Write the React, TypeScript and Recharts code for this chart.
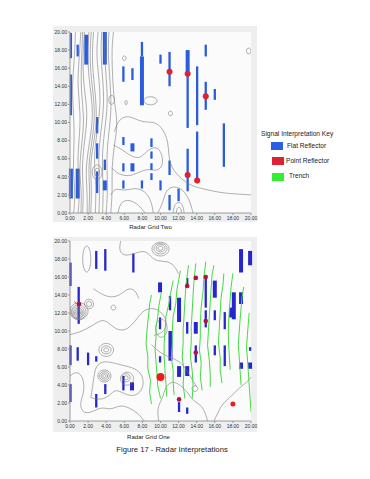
import React from "react";
import { ScatterChart, Scatter, XAxis, YAxis, ReferenceLine, CartesianGrid } from "recharts";

type XY = [number, number];
type Seg = [number, number, number]; // x, yFrom, yTo
type Ring = [number, number, number, number]; // cx, cy, rx, ry

const axisTicks = [0, 2, 4, 6, 8, 10, 12, 14, 16, 18, 20];

// ---------- Radar Grid Two (top) ----------
const twoContours: XY[][] = [
  [[0.4, 0], [0.6, 2], [0.3, 5], [0.5, 8], [0.4, 11], [0.2, 14], [0.5, 17], [0.6, 20]],
  [[0.9, 0], [1.1, 2.5], [0.8, 5.5], [1.0, 8], [1.2, 11], [0.8, 14], [1.0, 17], [1.2, 20]],
  [[1.2, 0], [1.3, 2.2], [1.0, 4.8], [1.3, 7.6], [1.6, 10.5], [1.2, 13.5], [1.25, 16.5], [1.4, 20]],
  [[1.4, 0], [1.5, 2.5], [1.3, 5], [1.6, 8], [2.0, 11], [1.5, 14], [1.4, 17], [1.6, 20]],
  [[1.9, 0], [1.9, 2.5], [1.7, 5], [2.2, 8], [2.6, 11], [2.2, 14], [1.9, 17], [2.1, 20]],
  [[2.1, 0], [2.2, 2.8], [2.0, 5.2], [2.45, 8], [2.8, 11], [2.45, 14], [2.15, 17], [2.35, 20]],
  [[2.3, 0], [2.4, 3], [2.2, 5.5], [2.7, 8], [3.0, 11], [2.7, 14], [2.4, 17], [2.6, 20]],
  [[2.8, 0], [2.9, 3], [2.6, 6], [3.0, 9], [3.4, 12], [3.2, 15], [2.9, 17.5], [3.1, 20]],
  [[3.2, 0], [3.3, 3], [3.1, 6], [3.4, 9], [3.8, 12], [3.6, 15], [3.4, 17.5], [3.5, 20]],
  [[3.6, 0], [3.7, 3], [3.5, 6], [3.8, 9], [4.2, 12], [4.0, 15], [3.8, 17.5], [3.9, 20]],
  [[4.0, 0], [4.2, 3], [4.0, 6], [4.3, 9], [4.6, 11.5], [4.4, 15], [4.2, 17.5], [4.3, 20]],
  [[4.5, 0], [4.7, 2.5], [4.6, 5], [4.9, 7.5], [5.3, 10], [4.9, 12], [4.7, 15], [4.6, 18], [4.8, 20]],
  [[4.9, 9.0], [5.3, 10.2], [6.2, 10.8], [7.2, 10.4], [8.2, 10.0], [9.4, 10.1], [10.3, 9.3], [10.9, 7.8], [10.9, 5.7], [11.6, 4.4], [13.1, 3.1], [14.5, 2.7], [16.8, 2.2], [18.5, 2.1], [20, 2.0]],
  [[4.8, 7.5], [5.8, 7.0], [6.8, 6.2], [7.8, 6.0], [8.6, 7.0], [9.6, 7.4], [10.2, 6.5], [10.3, 5.2], [9.6, 4.6], [8.6, 4.9], [7.6, 4.5], [6.5, 4.0], [5.3, 4.3], [4.6, 5.0]],
  [[5.3, 0], [5.6, 1.3], [6.6, 1.5], [7.6, 0.9], [8.3, 0]],
  [[9.7, 0], [10.3, 1.2], [10.6, 2.6], [11.5, 3.0], [12.5, 2.6], [13.2, 1.5], [13.6, 0]],
  [[11.4, 0], [11.5, 0.9], [12.0, 1.3], [12.5, 0.9], [12.6, 0]],
  [[11.75, 0], [11.8, 0.5], [12.05, 0.7], [12.3, 0.45], [12.3, 0]],
  [[4.5, 2.0], [5.0, 2.8], [6.0, 2.4], [7.0, 2.8], [8.3, 2.5], [9.0, 1.3], [9.2, 0]],
];
const twoRings: Ring[] = [
  [4.6, 12.5, 0.35, 0.55], [6.2, 12.2, 0.15, 0.25], [6.0, 17.1, 0.22, 0.28],
  [11.1, 11.0, 0.25, 0.28], [8.9, 12.4, 0.8, 0.5], [19.75, 17.9, 0.3, 0.35],
  [3.0, 4.5, 0.3, 0.5], [3.0, 4.5, 0.6, 0.9],
];
const twoFlat: Seg[] = [
  [0.1, 17.1, 19.9], [0.1, 10.8, 15.3], [0.85, 17.3, 18.6], [3.0, 8.8, 10.6], [3.0, 6.0, 7.7],
  [3.0, 2.2, 4.6], [3.85, 4.75, 5.9], [5.9, 14.5, 16.2], [5.9, 7.5, 8.4], [5.9, 4.6, 5.5],
  [5.9, 2.7, 3.6], [6.9, 14.7, 16.0], [7.95, 17.3, 18.9], [7.95, 2.7, 3.6], [9.0, 7.3, 8.25],
  [9.0, 6.0, 6.8], [9.0, 4.75, 5.5], [9.0, 3.65, 4.4], [10.0, 16.5, 17.5], [10.0, 2.5, 3.6],
  [11.0, 14.0, 17.8], [11.0, 4.2, 5.8], [11.0, 0.3, 2.0], [12.0, 1.3, 2.7], [13.0, 9.4, 15.6],
  [13.0, 2.4, 7.1], [14.05, 9.7, 16.2], [14.05, 3.3, 9.0], [15.0, 17.3, 18.6], [15.0, 11.4, 14.5],
  [16.0, 12.5, 13.7], [17.0, 5.1, 9.9],
];
const twoFlatWide: Seg[] = [
  [0.1, 1.6, 4.9], [0.85, 1.6, 4.9], [1.8, 16.4, 19.7], [3.85, 16.4, 20], [3.85, 2.5, 3.6],
  [6.9, 6.8, 7.7], [6.9, 4.6, 5.5], [7.95, 11.9, 17.3], [13.0, 15.6, 18.0],
];
const twoPoints: XY[] = [[11.0, 15.6], [13.0, 15.4], [15.0, 12.9], [13.0, 4.2], [14.05, 3.6]];

// ---------- Radar Grid One (bottom) ----------
const oneContours: XY[][] = [
  [[5.6, 20], [5.4, 18.9], [6.0, 18.3], [7.1, 18.6], [8.3, 19.0], [8.9, 18.3], [9.6, 17.7], [10.8, 17.8], [11.6, 17.2], [12.0, 16.3]],
  [[0, 9.6], [1.2, 9.9], [2.5, 10.6], [3.5, 11.3], [4.2, 11.0], [5.0, 10.2], [6.0, 10.0], [6.8, 10.6], [7.5, 11.5], [8.2, 12.4], [9.3, 12.6], [10.3, 12.0], [10.8, 10.8], [10.3, 9.8], [9.3, 9.5]],
  [[2.6, 14.7], [3.6, 14.0], [4.6, 13.7], [5.6, 14.0], [6.4, 14.8], [7.2, 14.6], [7.6, 13.6]],
  [[2.3, 2.6], [2.6, 4.5], [2.8, 6.2], [3.8, 6.7], [5.0, 6.4], [6.2, 6.1], [7.4, 5.8], [8.2, 4.8], [8.0, 3.3], [7.0, 2.7], [6.0, 3.0], [5.0, 3.6], [4.4, 2.8], [3.4, 2.3], [2.3, 2.6]],
  [[0, 5.0], [0.8, 5.6], [1.5, 4.8], [1.6, 3.2], [1.0, 1.8], [1.5, 0.8], [2.5, 1.0], [3.5, 1.6], [4.5, 1.2], [5.5, 1.8], [6.5, 1.5], [7.5, 0.9], [8.2, 0]],
  [[15.9, 0], [16.4, 1.0], [16.8, 1.9], [17.9, 2.8], [18.8, 3.8], [19.6, 4.3], [20, 4.9]],
  [[9.8, 0], [9.6, 1.5], [10.3, 2.6], [10.5, 3.8], [11.3, 4.5], [12.2, 4.0], [13.0, 3.2], [13.6, 2.2], [14.5, 1.8], [15.0, 0.8], [15.2, 0]],
  [[9.0, 8.5], [10.0, 7.5], [11.3, 7.0], [12.3, 6.5], [13.0, 5.5], [13.5, 4.6], [14.0, 3.8]],
];
const oneRings: Ring[] = [
  [1.85, 18.0, 0.5, 1.6],
  [10.0, 19.2, 0.3, 0.25], [10.0, 19.2, 0.55, 0.45], [10.0, 19.15, 0.8, 0.65], [10.0, 19.1, 1.05, 0.85],
  [0.9, 12.0, 0.15, 0.15], [0.9, 12.0, 0.3, 0.3], [0.9, 12.0, 0.45, 0.45], [0.9, 12.0, 0.6, 0.6],
  [0.9, 12.05, 0.75, 0.75], [0.95, 12.1, 0.9, 0.9], [1.0, 12.2, 1.1, 1.05],
  [2.1, 13.0, 0.3, 0.35], [2.1, 13.0, 0.55, 0.6],
  [4.8, 12.6, 0.3, 0.3],
  [4.0, 7.9, 0.3, 0.25], [4.0, 7.9, 0.6, 0.5], [4.0, 7.9, 0.9, 0.8],
  [3.8, 5.0, 0.2, 0.18], [3.8, 5.0, 0.4, 0.36], [3.8, 5.0, 0.6, 0.55], [3.8, 5.0, 0.8, 0.75],
  [6.2, 4.8, 0.25, 0.25], [6.2, 4.8, 0.5, 0.5], [6.3, 4.7, 0.8, 0.8],
  [13.8, 3.6, 0.35, 0.35], [10.1, 10.3, 0.7, 1.1],
];
const oneFlat: Seg[] = [
  [0.05, 15.0, 17.6], [0.05, 6.2, 8.4], [0.05, 2.1, 4.1], [0.96, 10.8, 14.9], [0.85, 6.7, 8.2],
  [2.0, 6.2, 7.6], [2.9, 16.9, 18.9], [2.9, 6.6, 7.2], [2.9, 1.5, 3.0], [3.9, 16.7, 19.1],
  [3.9, 3.0, 4.1], [5.9, 3.4, 5.0], [7.0, 16.5, 18.6], [9.95, 10.2, 11.5], [9.95, 6.5, 7.2],
  [11.05, 12.3, 13.9], [12.05, 1.0, 2.1], [12.95, 14.9, 15.9], [12.95, 9.7, 11.0], [12.95, 0.8, 1.5],
  [13.9, 6.5, 8.4], [15.0, 12.6, 15.9], [15.0, 10.4, 12.3], [16.0, 11.2, 12.3], [16.0, 7.3, 8.4],
  [17.1, 10.2, 12.1], [17.1, 6.1, 8.4], [19.9, 7.8, 8.2],
];
const oneFlatWide: Seg[] = [
  [6.85, 3.4, 4.3], [9.95, 14.3, 15.4], [11.1, 6.7, 10.0], [12.05, 11.0, 13.7], [12.05, 4.9, 6.1],
  [12.95, 5.0, 6.1], [13.9, 9.7, 11.0], [16.0, 13.7, 15.6], [17.8, 11.5, 12.6], [18.1, 11.3, 14.3],
  [18.9, 16.5, 19.1], [18.9, 13.0, 14.3], [18.9, 5.8, 6.5], [19.9, 17.3, 18.9], [19.9, 5.8, 6.5],
];
const oneTrenches: XY[][] = [
  [[9.0, 1.9], [8.8, 3.2], [8.9, 4.5], [8.6, 5.8], [8.6, 7.1], [8.4, 8.6], [8.5, 10.0], [8.6, 11.0], [8.7, 11.9], [8.8, 13.0], [9.0, 14.0]],
  [[10.0, 2.5], [9.7, 3.9], [9.6, 5.3], [9.5, 6.6], [9.4, 7.9], [9.5, 9.2], [9.5, 10.4], [9.7, 11.6], [9.8, 12.7], [10.1, 14.3]],
  [[10.7, 2.7], [10.6, 4.2], [10.5, 5.6], [10.4, 7.1], [10.4, 8.6], [10.5, 10.1], [10.6, 11.6], [10.9, 12.9], [11.1, 14.1], [11.4, 15.6]],
  [[11.5, 2.9], [11.4, 4.3], [11.4, 5.6], [11.2, 7.0], [11.3, 8.6], [11.3, 10.0], [11.4, 11.6], [11.7, 13.1], [11.8, 14.5], [12.2, 16.7]],
  [[12.7, 2.5], [12.5, 4.0], [12.6, 5.6], [12.4, 7.1], [12.5, 8.6], [12.5, 10.1], [12.6, 11.6], [12.7, 13.3], [12.8, 15.0], [13.1, 17.3]],
  [[13.5, 2.5], [13.6, 4.0], [13.5, 5.6], [13.3, 7.2], [13.4, 8.9], [13.4, 10.5], [13.5, 12.2], [13.6, 14.0], [13.7, 15.6], [13.9, 17.5]],
  [[14.6, 3.4], [14.4, 4.9], [14.5, 6.4], [14.3, 7.9], [14.4, 9.3], [14.4, 11.0], [14.5, 12.7], [14.7, 14.4], [14.8, 16.0], [15.0, 17.7]],
  [[15.5, 3.8], [15.5, 5.2], [15.4, 6.7], [15.2, 8.4], [15.3, 10.1], [15.4, 11.7], [15.5, 13.3], [15.6, 14.8], [15.7, 16.3], [15.9, 17.3]],
  [[16.8, 4.2], [16.6, 5.6], [16.6, 7.0], [16.4, 8.7], [16.5, 10.4], [16.6, 12.1], [16.7, 13.8], [16.9, 15.1], [17.0, 16.4]],
  [[17.7, 5.7], [17.6, 7.3], [17.5, 9.0], [17.5, 10.6], [17.6, 12.3], [17.7, 13.6], [17.8, 14.9], [18.0, 16.4]],
  [[18.9, 4.0], [18.8, 5.5], [18.7, 7.0], [18.6, 8.5], [18.7, 10.0], [18.8, 11.3], [18.9, 12.5], [19.0, 13.7], [19.2, 14.9]],
  [[20.0, 1.0], [19.9, 2.5], [19.8, 4.0], [19.7, 5.5], [19.6, 7.0], [19.5, 8.2], [19.6, 9.5], [19.7, 10.8], [19.8, 12.0]],
];
const onePoints: XY[] = [[1.0, 13.0], [12.05, 2.4], [12.95, 15.0], [13.9, 15.9], [15.0, 16.0], [15.0, 11.1], [13.9, 7.6]];
const oneBigPoints: XY[] = [[10.0, 4.9]];
const oneBrightPoints: XY[] = [[18.0, 1.9]];
const oneTrail: XY[] = [[0.45, 13.3], [0.7, 13.05], [1.0, 13.0]];

const toPts = (arr: XY[]) => arr.map(([x, y]) => ({ x, y }));
const ringPts = ([cx, cy, rx, ry]: Ring) =>
  [0, 1, 2, 3, 4, 5, 6, 7].map((k) => ({ x: cx + rx * Math.cos((k * Math.PI) / 4), y: cy + ry * Math.sin((k * Math.PI) / 4) }));

const Empty = () => <g />;
const dot = (r: number, fill: string) => (p: any) => <circle cx={p.cx} cy={p.cy} r={r} fill={fill} />;

const tickStyle = { fontSize: 5, fill: "#333", fontFamily: "Liberation Sans, Arial, sans-serif" };
const contourLine = { stroke: "#7a7a7a", strokeWidth: 0.6 };

interface GridProps {
  height: number;
  top: number;
  contours: XY[][];
  rings: Ring[];
  flat: Seg[];
  flatWide: Seg[];
  barColor: string;
  trenches?: XY[][];
  trail?: XY[];
  children?: React.ReactNode;
}

function RadarGrid({ height, top, contours, rings, flat, flatWide, barColor, trenches = [], trail = [], children }: GridProps) {
  return (
    <ScatterChart width={260} height={height} margin={{ top, right: 9, bottom: 0, left: 0 }}>
      <CartesianGrid fill="#fbfbfb" horizontal={false} vertical={false} />
      <XAxis type="number" dataKey="x" domain={[0, 20]} ticks={axisTicks} interval={0} allowDataOverflow
        tickFormatter={(v) => Number(v).toFixed(2)} tick={tickStyle} tickSize={2} tickMargin={1} stroke="#9a9a9a" height={19} />
      <YAxis type="number" dataKey="y" domain={[0, 20]} ticks={axisTicks} interval={0} allowDataOverflow
        tickFormatter={(v) => Number(v).toFixed(2)} tick={tickStyle} tickSize={2} tickMargin={1} stroke="#9a9a9a" width={70} />
      <XAxis xAxisId="top" orientation="top" type="number" domain={[0, 20]} ticks={axisTicks} allowDataOverflow
        tick={false} tickSize={2} stroke="#b0b0b0" height={0} />
      <YAxis yAxisId="right" orientation="right" type="number" domain={[0, 20]} ticks={axisTicks} allowDataOverflow
        tick={false} tickSize={2} stroke="#b0b0b0" width={0} />
      {contours.map((c, i) => (
        <Scatter key={`c${i}`} data={toPts(c)} line={contourLine} lineJointType="basis"
          shape={Empty} legendType="none" isAnimationActive={false} />
      ))}
      {rings.map((r, i) => (
        <Scatter key={`r${i}`} data={ringPts(r)} line={contourLine} lineJointType="basisClosed"
          shape={Empty} legendType="none" isAnimationActive={false} />
      ))}
      {trenches.map((t, i) => (
        <Scatter key={`t${i}`} data={toPts(t)} line={{ stroke: "#44dc44", strokeWidth: 1 }} lineJointType="linear"
          shape={Empty} legendType="none" isAnimationActive={false} />
      ))}
      {trail.length > 0 && (
        <Scatter data={toPts(trail)} line={{ stroke: "#d02030", strokeWidth: 0.8 }} shape={Empty} legendType="none" isAnimationActive={false} />
      )}
      {flat.map(([x, y1, y2], i) => (
        <ReferenceLine key={`f${i}`} segment={[{ x, y: y1 }, { x, y: y2 }]} stroke={barColor} strokeWidth={2.3} />
      ))}
      {flatWide.map(([x, y1, y2], i) => (
        <ReferenceLine key={`w${i}`} segment={[{ x, y: y1 }, { x, y: y2 }]} stroke={barColor} strokeWidth={4} />
      ))}
      {children}
    </ScatterChart>
  );
}

const label = (text: string, cx: number, cy: number, size: number, w = 160) => (
  <div style={{ position: "absolute", left: cx - w / 2, top: cy - 5, width: w, height: 10, lineHeight: "10px",
    textAlign: "center", fontSize: size, color: "#222", whiteSpace: "nowrap" }}>{text}</div>
);

export default function App() {
  const keyText = { position: "absolute" as const, fontSize: 6.6, color: "#222", lineHeight: "8px", whiteSpace: "nowrap" as const };
  return (
    <div style={{ position: "absolute", left: 0, top: 0, width: 370, height: 479, background: "#fff", overflow: "hidden",
      fontFamily: "Liberation Sans, Arial, sans-serif" }}>
      <div style={{ position: "absolute", left: 53, top: 26, width: 204, height: 196, background: "#eeeeee" }} />
      <div style={{ position: "absolute", left: 53, top: 237, width: 204, height: 195, background: "#eeeeee" }} />

      <div style={{ position: "absolute", left: 0, top: 0 }}>
        <RadarGrid height={232} top={32} contours={twoContours} rings={twoRings} flat={twoFlat} flatWide={twoFlatWide} barColor="#2a5cdc">
          <Scatter data={toPts(twoPoints)} shape={dot(3, "#e3202c")} legendType="none" isAnimationActive={false} />
        </RadarGrid>
      </div>
      <div style={{ position: "absolute", left: 0, top: 230 }}>
        <RadarGrid height={210} top={11} contours={oneContours} rings={oneRings} flat={oneFlat} flatWide={oneFlatWide}
          barColor="#2626d0" trenches={oneTrenches} trail={oneTrail}>
          <Scatter data={toPts(onePoints)} shape={dot(2.3, "#b01440")} legendType="none" isAnimationActive={false} />
          <Scatter data={toPts(oneBigPoints)} shape={dot(4, "#ee1c1c")} legendType="none" isAnimationActive={false} />
          <Scatter data={toPts(oneBrightPoints)} shape={dot(2.5, "#ee1c1c")} legendType="none" isAnimationActive={false} />
        </RadarGrid>
      </div>

      {label("Radar Grid Two", 150.5, 226.5, 6.1)}
      {label("Radar Grid One", 148.5, 436.5, 6.1)}
      {label("Figure 17 - Radar Interpretations", 172, 449.5, 7.7, 200)}

      <div style={{ ...keyText, left: 261, top: 129.5 }}>Signal Interpretation Key</div>
      <div style={{ position: "absolute", left: 271, top: 142, width: 12, height: 8, background: "#2b5fe0" }} />
      <div style={{ ...keyText, left: 287, top: 142 }}>Flat Reflector</div>
      <div style={{ position: "absolute", left: 272, top: 157, width: 12, height: 8, background: "#dd2233" }} />
      <div style={{ ...keyText, left: 286, top: 157 }}>Point Reflector</div>
      <div style={{ position: "absolute", left: 272, top: 172.5, width: 12, height: 8, background: "#33ee33" }} />
      <div style={{ ...keyText, left: 289, top: 172 }}>Trench</div>
    </div>
  );
}
